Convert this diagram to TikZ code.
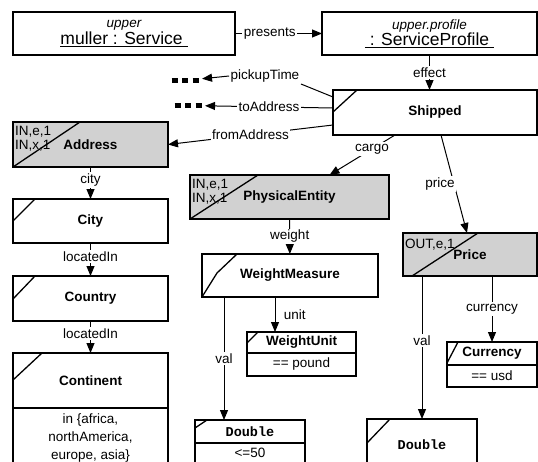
\documentclass[tikz,border=0pt]{standalone}
\usepackage{fontspec}
\setmainfont{Liberation Sans}
\setmonofont{Liberation Mono}
\usetikzlibrary{arrows.meta,positioning}
\definecolor{boxgray}{gray}{0.82}
\tikzset{>={Triangle[length=10pt,width=8pt]}}
\newcommand{\moredots}{\rule{6pt}{5pt}\hspace{4.5pt}\rule{6pt}{5pt}\hspace{4.5pt}\rule{6pt}{5pt}}

\begin{document}
\begin{tikzpicture}[x=1pt, y=-1pt, font=\fontsize{13.5}{15}\selectfont,
    obj/.style={draw, line width=1.3pt, outer sep=0pt, align=center},
    cls/.style={draw, line width=1.3pt, fill=white, outer sep=0pt, inner sep=0pt, font=\fontsize{13.5}{15}\selectfont\bfseries},
    gcls/.style={cls, fill=boxgray},
    cval/.style={draw, line width=1.3pt, fill=white, outer sep=0pt, inner sep=0pt, align=center},
    conn/.style={->, line width=1pt},
    lbl/.style={fill=white, inner sep=1.5pt},
    slash/.style={line width=1.3pt},
    tag/.style={anchor=north west, inner sep=1pt, align=left, font=\fontsize{13.5}{14}\selectfont}]
    \useasboundingbox (0,0) rectangle (538,461);
    \clip (0,0) rectangle (538,461);

    % service and profile
    \node[obj, minimum width=222pt, minimum height=43pt] (service) at (124,33.5)
        {{\itshape upper}\\{\fontsize{17.5}{20}\selectfont\underline{muller : Service\ }}};
    \node[obj, minimum width=215pt, minimum height=43pt] (profile) at (429.5,33.5)
        {{\itshape upper.profile}\\{\fontsize{17.5}{20}\selectfont\underline{\ : ServiceProfile\ }}};
    \draw[conn] (service) -- node[lbl, pos=0.4] {presents} (profile);

    % effect
    \node[cls, minimum width=204pt, minimum height=45pt] (ship) at (435,112.5) {Shipped};
    \draw[conn] (profile.south) -- node[lbl] {effect} (profile.south |- ship.north);

    % left column
    \node[gcls, minimum width=155pt, minimum height=45pt] (addr) at (90.5,144.5) {Address};
    \node[cls, minimum width=155pt, minimum height=44pt] (city) at (90.5,221) {City};
    \node[cls, minimum width=155pt, minimum height=45pt] (country) at (90.5,298.5) {Country};
    \node[cls, minimum width=155pt, minimum height=55pt] (continent) at (90.5,380.5) {Continent};
    \node[cval, minimum width=155pt, minimum height=60pt, font=\fontsize{13.5}{18}\selectfont,
        below=0pt of continent] (contv) {in \{africa,\\northAmerica,\\europe, asia\}};

    % middle
    \node[gcls, minimum width=199pt, minimum height=44pt] (phys) at (289.5,197) {PhysicalEntity};
    \node[cls, minimum width=176pt, minimum height=43pt] (weight) at (290,275.5) {WeightMeasure};
    \node[cls, minimum width=109pt, minimum height=21pt] (unit) at (301.5,342.5) {WeightUnit};
    \node[cval, minimum width=109pt, minimum height=23pt, below=0pt of unit] (unitv) {== pound};
    \node[cls, minimum width=110pt, minimum height=23pt, font=\fontsize{13.5}{15}\selectfont\ttfamily\bfseries] (dbl1) at (250,431.5) {Double};
    \node[cval, minimum width=110pt, minimum height=20pt, below=0pt of dbl1] (dbl1v) {<=50};

    % right
    \node[gcls, minimum width=134pt, minimum height=43pt] (price) at (470,254.5) {Price};
    \node[cls, minimum width=90pt, minimum height=23pt] (cur) at (492,353.5) {Currency};
    \node[cval, minimum width=90pt, minimum height=22pt, below=0pt of cur] (curv) {== usd};
    \node[cls, minimum width=110pt, minimum height=52pt, font=\fontsize{13.5}{15}\selectfont\ttfamily\bfseries] (dbl2) at (422,445) {Double};

    % tags
    \node[tag] (addrtag) at ([shift={(1pt,-3pt)}]addr.north west) {IN,e,1\\IN,x,1};
    \node[tag] (phystag) at ([shift={(1pt,-3pt)}]phys.north west) {IN,e,1\\IN,x,1};
    \node[tag] (pricetag) at ([shift={(1pt,-5pt)}]price.north west) {OUT,e,1};

    % corner slashes
    \draw[slash] ([yshift=-22pt]ship.north west) -- ([xshift=24pt]ship.north west);
    \draw[slash] (addr.south west) -- ([xshift=67pt]addr.north west);
    \draw[slash] ([yshift=-22pt]city.north west) -- ([xshift=22pt]city.north west);
    \draw[slash] ([yshift=-23pt]country.north west) -- ([xshift=22pt]country.north west);
    \draw[slash] ([yshift=-27pt]continent.north west) -- ([xshift=29pt]continent.north west);
    \draw[slash] (phys.south west) -- ([xshift=68pt]phys.north west);
    \draw[slash] ([xshift=9pt]price.south west) -- ([xshift=75pt]price.north west);
    \draw[slash] (weight.south west) -- ([shift={(15pt,24pt)}]weight.south west) -- ([xshift=35pt]weight.north west);
    \draw[slash] ([yshift=-11pt]unit.north west) -- ([xshift=11pt]unit.north west);
    \draw[slash] ([yshift=-21pt]cur.north west) -- ([xshift=11pt]cur.north west);
    \draw[slash] ([yshift=-8pt]dbl1.north west) -- ([xshift=12pt]dbl1.north west);
    \draw[slash] ([yshift=-24pt]dbl2.north west) -- ([xshift=23pt]dbl2.north west);

    % dots and roles of Shipped
    \node (more1) at (185,80.5) {\moredots};
    \node (more2) at (188,105.5) {\moredots};
    \node[lbl] (pick) at (265,76) {pickupTime};
    \draw[line width=1pt] ([yshift=-7pt]ship.north west) -- (pick.south east);
    \draw[conn] (pick.west) -- (more1);
    \draw[conn] ([yshift=-18pt]ship.north west) -- node[lbl] {toAddress} (more2);
    \draw[conn] ([yshift=10pt]ship.south west) -- node[lbl] {fromAddress} (addr.east);
    \draw[conn] ([xshift=-40pt]ship.south) -- node[lbl, pos=0.35] {cargo} ([xshift=40pt]phys.north);
    \draw[conn] ([xshift=6pt]ship.south) -- node[lbl, midway, xshift=-14pt] {price} ([xshift=-3pt]price.north);

    % chains
    \draw[conn] (addr) -- node[lbl, pos=0.4] {city} (city);
    \draw[conn] (city) -- node[lbl, pos=0.4] {locatedIn} (country);
    \draw[conn] (country) -- node[lbl, pos=0.4] {locatedIn} (continent);
    \draw[conn] (phys) -- node[lbl] {weight} (weight);
    \coordinate (unitx) at (275,0);
    \coordinate (valx) at (224,0);
    \draw[conn] (weight.south -| unitx) -- node[right, xshift=5pt] {unit} (unit.north -| unitx);
    \draw[conn] (weight.south -| valx) -- node[lbl] {val} (dbl1.north -| valx);
    \draw[conn] (price.south -| dbl2.north) -- node[lbl, pos=0.45] {val} (dbl2.north);
    \draw[conn] (price.south -| cur.north) -- node[lbl] {currency} (cur.north);
\end{tikzpicture}
\end{document}
